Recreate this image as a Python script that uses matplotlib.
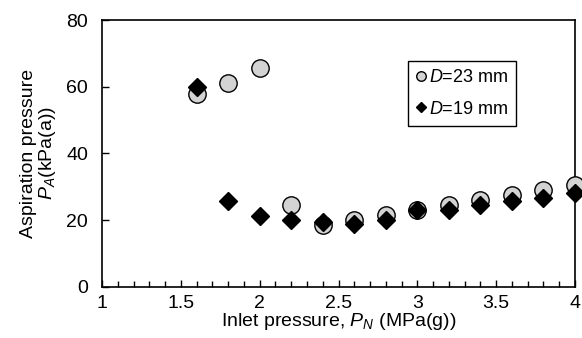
import matplotlib.pyplot as plt
from matplotlib.ticker import MultipleLocator

plt.rcParams['font.family'] = ['Liberation Sans', 'DejaVu Sans']
plt.rcParams['mathtext.fontset'] = 'custom'
plt.rcParams['mathtext.it'] = 'Liberation Sans:italic'
plt.rcParams['mathtext.rm'] = 'Liberation Sans'

# Inlet pressure (MPa(g))
pn = [1.6, 1.8, 2.0, 2.2, 2.4, 2.6, 2.8, 3.0, 3.2, 3.4, 3.6, 3.8, 4.0]
# Aspiration pressure (kPa(a)) for each throat diameter
pa_d23 = [57.7, 61.0, 65.5, 24.4, 18.6, 20.0, 21.6, 23.0, 24.6, 26.0, 27.6, 28.9, 30.6]
pa_d19 = [59.8, 25.6, 21.3, 20.0, 19.3, 18.9, 20.0, 22.9, 23.0, 24.6, 25.8, 26.6, 28.0]

fig = plt.figure(figsize=(5.82, 3.38), dpi=100)
ax = fig.add_axes([0.1753, 0.1518, 0.8127, 0.789])

ax.plot(pn, pa_d23, 'o', ms=12.5, mfc='#d3d3d3', mec='black', mew=1.0,
        label='$D$=23 mm', clip_on=False, zorder=3)
ax.plot(pn, pa_d19, 'D', ms=9.5, mfc='black', mec='black',
        label='$D$=19 mm', clip_on=False, zorder=4)

ax.set_xlim(1, 4)
ax.set_ylim(0, 80)
ax.xaxis.set_major_locator(MultipleLocator(0.5))
ax.xaxis.set_minor_locator(MultipleLocator(0.1))
ax.yaxis.set_major_locator(MultipleLocator(20))
ax.xaxis.set_major_formatter(plt.FuncFormatter(lambda v, p: '%g' % v))
ax.tick_params(axis='x', which='major', direction='in', length=5, width=1,
               labelsize=14, pad=6)
ax.tick_params(axis='x', which='minor', direction='in', length=4, width=1)
ax.tick_params(axis='y', direction='in', length=5, width=1, labelsize=14,
               pad=10)
for s in ax.spines.values():
    s.set_linewidth(1.2)

ax.set_xlabel('Inlet pressure, $P_N$ (MPa(g))', fontsize=14, labelpad=-1)
ax.set_ylabel('Aspiration pressure\n$P_A$(kPa(a))', fontsize=14,
              labelpad=6, linespacing=1.0)

leg = ax.legend(loc='upper left', bbox_to_anchor=(0.647, 0.846),
                fontsize=13, markerscale=0.55, handlelength=0.5,
                handletextpad=0.2, borderpad=0.45, labelspacing=0.8,
                fancybox=False, framealpha=1, edgecolor='black',
                borderaxespad=0)
leg.get_frame().set_linewidth(1.0)

fig.savefig('out.png', dpi=100)
